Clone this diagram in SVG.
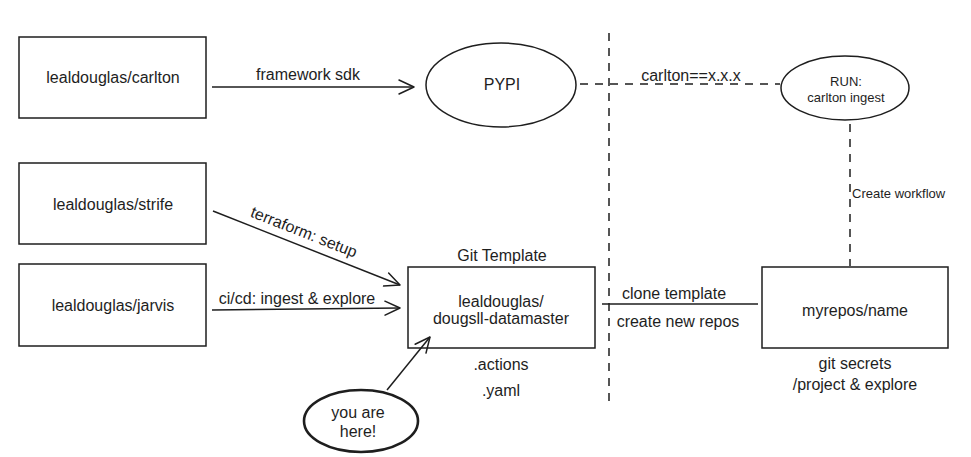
<svg xmlns="http://www.w3.org/2000/svg" width="971" height="457" viewBox="0 0 971 457">
  <style>
    .box { fill: #ffffff; stroke: #1e1e1e; stroke-width: 1.5; }
    .ell { fill: #ffffff; stroke: #1e1e1e; stroke-width: 1.5; }
    .ellb { fill: #ffffff; stroke: #1e1e1e; stroke-width: 2.6; }
    .t { font-family: "Liberation Sans", Arial, sans-serif; font-size: 16px; fill: #1e1e1e; text-anchor: middle; dominant-baseline: central; }
    .s { font-size: 13px; }
    .line { fill: none; stroke: #1e1e1e; stroke-width: 1.5; }
    .dash { fill: none; stroke: #1e1e1e; stroke-width: 1.5; stroke-dasharray: 8 7; }
  </style>
  <defs>
    <marker id="arr" markerUnits="userSpaceOnUse" markerWidth="20" markerHeight="20" refX="16" refY="8" orient="auto" viewBox="0 0 20 16">
      <path d="M1,1 L16,8 L1,15" fill="none" stroke="#1e1e1e" stroke-width="1.5" stroke-linecap="round" stroke-linejoin="round"/>
    </marker>
  </defs>
  <rect width="971" height="457" fill="#ffffff"/>

  <g id="carlton">
    <rect class="box" x="19" y="37" width="187" height="81"/>
    <text class="t" x="113" y="77">lealdouglas/carlton</text>
  </g>
  <g id="pypi">
    <ellipse class="ell" cx="501" cy="85" rx="75" ry="42"/>
    <text class="t" x="502" y="84">PYPI</text>
  </g>
  <g id="run">
    <ellipse class="ell" cx="845" cy="88" rx="64" ry="32"/>
    <text class="t s" x="846" y="81">RUN:</text>
    <text class="t s" x="846" y="97">carlton ingest</text>
  </g>
  <g id="strife">
    <rect class="box" x="19" y="163" width="187" height="81"/>
    <text class="t" x="113" y="204">lealdouglas/strife</text>
  </g>
  <g id="jarvis">
    <rect class="box" x="19" y="264" width="187" height="82"/>
    <text class="t" x="113" y="305">lealdouglas/jarvis</text>
  </g>
  <g id="template">
    <text class="t" x="502" y="255">Git Template</text>
    <rect class="box" x="408" y="267" width="187" height="81"/>
    <text class="t" x="501" y="301">lealdouglas/</text>
    <text class="t" x="501" y="318">dougsll-datamaster</text>
    <text class="t" x="501" y="364">.actions</text>
    <text class="t" x="501" y="390">.yaml</text>
  </g>
  <g id="myrepos">
    <rect class="box" x="762" y="267" width="186" height="81"/>
    <text class="t" x="855" y="310">myrepos/name</text>
    <text class="t" x="855" y="363">git secrets</text>
    <text class="t" x="855" y="384">/project &amp; explore</text>
  </g>
  <g id="youarehere">
    <ellipse class="ellb" cx="361" cy="421" rx="57" ry="31"/>
    <text class="t" x="358" y="412">you are</text>
    <text class="t" x="358" y="431">here!</text>
  </g>

  <g id="connectors">
    <line class="dash" x1="609" y1="33" x2="609" y2="401"/>
    <line class="line" x1="212" y1="87" x2="414" y2="87" marker-end="url(#arr)"/>
    <text class="t" x="308" y="74">framework sdk</text>
    <line class="dash" x1="580" y1="84" x2="780" y2="84"/>
    <text class="t" x="691" y="75">carlton==x.x.x</text>
    <line class="dash" x1="850" y1="124" x2="850" y2="266"/>
    <text class="t s" x="852" y="193" style="text-anchor:start">Create workflow</text>
    <line class="line" x1="213" y1="211" x2="400" y2="285" marker-end="url(#arr)"/>
    <text class="t" x="304" y="232" transform="rotate(21.6 304 232)">terraform: setup</text>
    <line class="line" x1="212" y1="310" x2="400" y2="308" marker-end="url(#arr)"/>
    <text class="t" x="297" y="298">ci/cd: ingest &amp; explore</text>
    <line class="line" x1="387" y1="390" x2="430" y2="337" marker-end="url(#arr)"/>
    <line class="line" x1="602" y1="304" x2="758" y2="304"/>
    <text class="t" x="674" y="293">clone template</text>
    <text class="t" x="678" y="321">create new repos</text>
  </g>
</svg>
